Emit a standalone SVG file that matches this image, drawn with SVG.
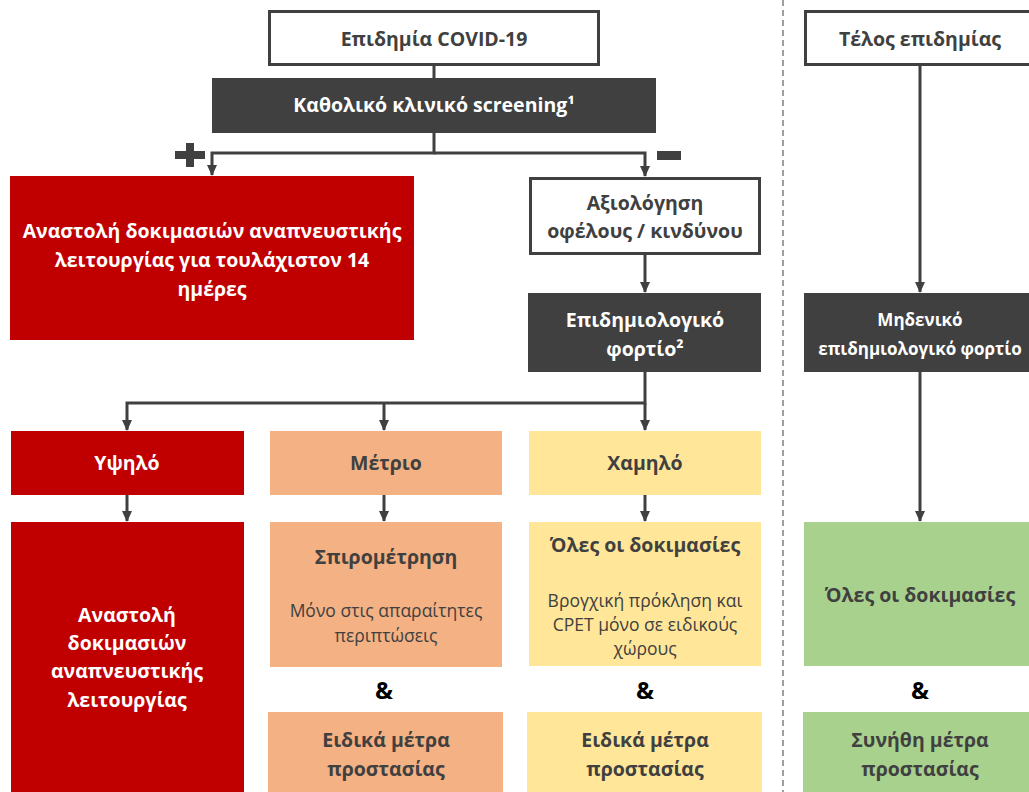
<svg xmlns="http://www.w3.org/2000/svg" width="1029" height="792" viewBox="0 0 1029 792">
<defs>
<marker id="arr" markerWidth="11" markerHeight="10" refX="10" refY="5" orient="auto" markerUnits="userSpaceOnUse" viewBox="0 0 11 10">
<path d="M0,0 L11,5 L0,10 Z" fill="#404040"/>
</marker>
<style>
text{font-family:"Open Sans","Noto Sans","DejaVu Sans",sans-serif;text-anchor:middle;}
.b{font-weight:bold;}
.w{fill:#ffffff;}
.d{fill:#404040;}
.k{fill:#000000;}
.f17{font-size:19.5px;}
.f15{font-size:17.5px;}
.fz{font-size:17px;}
.fa{font-size:24px;}
.wb{fill:#ffffff;stroke:#404040;stroke-width:3;}
.dk{fill:#404040;}
.red{fill:#C00000;}
.or{fill:#F4B183;}
.ye{fill:#FFE699;}
.gr{fill:#A9D18E;}
.cn{fill:none;stroke:#404040;stroke-width:3;}
</style>
</defs>
<g id="divider"><line x1="783" y1="0" x2="783" y2="792" stroke="#7f7f7f" stroke-width="1.5" stroke-dasharray="6,4"/></g>
<g id="connectors">
<path class="cn" d="M434,65 V78"/>
<path class="cn" d="M434,133 V153 H212 V175" marker-end="url(#arr)"/>
<path class="cn" d="M434,153 H645 V176" marker-end="url(#arr)"/>
<path class="cn" d="M645,255 V292" marker-end="url(#arr)"/>
<path class="cn" d="M645,372 V403 H127 V430" marker-end="url(#arr)"/>
<path class="cn" d="M384,403 V430" marker-end="url(#arr)"/>
<path class="cn" d="M645,403 V430" marker-end="url(#arr)"/>
<path class="cn" d="M127,495 V521" marker-end="url(#arr)"/>
<path class="cn" d="M384,495 V521" marker-end="url(#arr)"/>
<path class="cn" d="M645,495 V521" marker-end="url(#arr)"/>
<path class="cn" d="M920,65 V292" marker-end="url(#arr)"/>
<path class="cn" d="M920,372 V521" marker-end="url(#arr)"/>
</g>
<g id="plus"><rect x="175" y="151" width="30" height="8" fill="#404040"/><rect x="186" y="143" width="8" height="24" fill="#404040"/></g>
<g id="minus"><rect x="657" y="151" width="24" height="9" fill="#404040"/></g>
<g id="n-covid"><rect class="wb" x="269.5" y="11.5" width="329" height="53"/><text class="b d f17" x="434" y="46">Επιδημία COVID-19</text></g>
<g id="n-screening"><rect class="dk" x="212" y="78" width="444" height="55"/><text class="b w f17" x="434" y="112">Καθολικό κλινικό screening¹</text></g>
<g id="n-suspend14"><rect class="red" x="10" y="176" width="404" height="164"/><text class="b w f17"><tspan x="212" y="238">Αναστολή δοκιμασιών αναπνευστικής</tspan><tspan x="212" y="267">λειτουργίας για τουλάχιστον 14</tspan><tspan x="212" y="296">ημέρες</tspan></text></g>
<g id="n-eval"><rect class="wb" x="530.5" y="178.5" width="229" height="75"/><text class="b d f17"><tspan x="645" y="210">Αξιολόγηση</tspan><tspan x="645" y="238">οφέλους / κινδύνου</tspan></text></g>
<g id="n-load"><rect class="dk" x="528" y="293" width="233" height="79"/><text class="b w f17"><tspan x="645" y="327">Επιδημιολογικό</tspan><tspan x="645" y="356">φορτίο²</tspan></text></g>
<g id="n-high"><rect class="red" x="11" y="431" width="233" height="64"/><text class="b w f17" x="127" y="470">Υψηλό</text></g>
<g id="n-mid"><rect class="or" x="270" y="431" width="232" height="64"/><text class="b d f17" x="386" y="470">Μέτριο</text></g>
<g id="n-low"><rect class="ye" x="529" y="431" width="232" height="64"/><text class="b d f17" x="645" y="470">Χαμηλό</text></g>
<g id="n-suspend"><rect class="red" x="11" y="522" width="233" height="270"/><text class="b w f17"><tspan x="127" y="622">Αναστολή</tspan><tspan x="127" y="650">δοκιμασιών</tspan><tspan x="127" y="678">αναπνευστικής</tspan><tspan x="127" y="707">λειτουργίας</tspan></text></g>
<g id="n-spiro"><rect class="or" x="270" y="522" width="232" height="145"/><text class="b d f17" x="386" y="564">Σπιρομέτρηση</text><text class="d f15"><tspan x="386" y="617">Μόνο στις απαραίτητες</tspan><tspan x="386" y="642">περιπτώσεις</tspan></text></g>
<g id="amp1"><text class="b k fa" x="384" y="699">&amp;</text></g>
<g id="n-mid-prot"><rect class="or" x="268" y="712" width="235" height="80"/><text class="b d f17"><tspan x="386" y="747">Ειδικά μέτρα</tspan><tspan x="386" y="776">προστασίας</tspan></text></g>
<g id="n-all-low"><rect class="ye" x="529" y="522" width="232" height="144"/><text class="b d f17" x="645" y="552">Όλες οι δοκιμασίες</text><text class="d f15"><tspan x="645" y="607">Βρογχική πρόκληση και</tspan><tspan x="645" y="631">CPET μόνο σε ειδικούς</tspan><tspan x="645" y="655">χώρους</tspan></text></g>
<g id="amp2"><text class="b k fa" x="645" y="699">&amp;</text></g>
<g id="n-low-prot"><rect class="ye" x="527" y="712" width="235" height="80"/><text class="b d f17"><tspan x="645" y="747">Ειδικά μέτρα</tspan><tspan x="645" y="776">προστασίας</tspan></text></g>
<g id="n-end"><rect class="wb" x="805.5" y="11.5" width="230" height="53"/><text class="b d f17" x="920" y="46">Τέλος επιδημίας</text></g>
<g id="n-zero"><rect class="dk" x="804" y="293" width="232" height="79"/><text class="b w fz"><tspan x="920" y="326">Μηδενικό</tspan><tspan x="920" y="355">επιδημιολογικό φορτίο</tspan></text></g>
<g id="n-all-end"><rect class="gr" x="804" y="522" width="232" height="144"/><text class="b d f17" x="920" y="602">Όλες οι δοκιμασίες</text></g>
<g id="amp3"><text class="b k fa" x="920" y="699">&amp;</text></g>
<g id="n-usual-prot"><rect class="gr" x="803" y="712" width="233" height="80"/><text class="b d f17"><tspan x="920" y="747">Συνήθη μέτρα</tspan><tspan x="920" y="776">προστασίας</tspan></text></g>
</svg>
